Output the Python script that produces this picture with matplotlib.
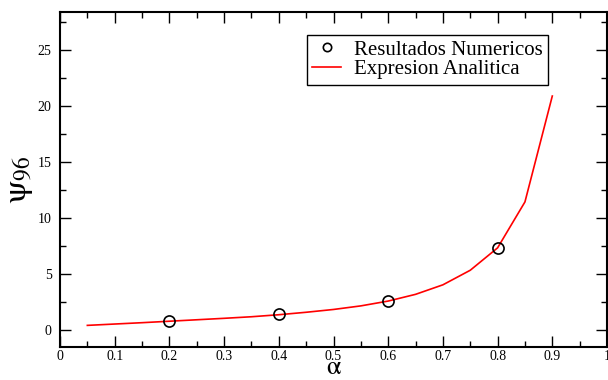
import matplotlib
matplotlib.use("Agg")
import matplotlib.pyplot as plt
from matplotlib.ticker import MultipleLocator

alpha_num = [0.2, 0.4, 0.6, 0.8]
psi_num = [0.83, 1.43, 2.6, 7.3]

alpha_an = [0.05, 0.1, 0.15, 0.2, 0.25, 0.3, 0.35, 0.4, 0.45, 0.5, 0.55,
            0.6, 0.65, 0.7, 0.75, 0.8, 0.85, 0.9]
psi_an = [0.43, 0.55, 0.67, 0.8, 0.93, 1.06, 1.2, 1.38, 1.6, 1.85, 2.17,
          2.6, 3.2, 4.05, 5.35, 7.35, 11.45, 20.9]

x_ticks = [0, 0.1, 0.2, 0.3, 0.4, 0.5, 0.6, 0.7, 0.8, 0.9, 1]
x_ticklabels = ["0", "0.1", "0.2", "0.3", "0.4", "0.5", "0.6", "0.7", "0.8", "0.9", "1"]
y_ticks = [0, 5, 10, 15, 20, 25]

plt.rcParams['font.family'] = ['Liberation Serif', 'DejaVu Serif']
plt.rcParams['mathtext.fontset'] = 'stix'

fig = plt.figure(figsize=(6.08, 3.80), dpi=100)
ax = fig.add_axes([60/608, 1-347/380, 547/608, 335/380])

ax.plot(alpha_an, psi_an, color='red', lw=1.2, label='Expresion Analitica', zorder=2)
ax.plot(alpha_num, psi_num, linestyle='none', marker='o', markersize=8,
        markerfacecolor='none', markeredgecolor='black', markeredgewidth=1.2,
        label='Resultados Numericos', zorder=3)

ax.set_xlim(0, 1)
ax.set_ylim(-1.5, 28.4)
ax.set_xticks(x_ticks)
ax.set_xticklabels(x_ticklabels)
ax.set_yticks(y_ticks)
ax.xaxis.set_minor_locator(MultipleLocator(0.05))
ax.yaxis.set_minor_locator(MultipleLocator(2.5))
ax.tick_params(which='both', direction='in', top=True, right=True, labelsize=10, width=1)
ax.tick_params(which='major', length=8)
ax.tick_params(axis='x', which='major', pad=2)
ax.tick_params(axis='y', which='major', pad=6)
ax.tick_params(which='minor', length=4)
for s in ax.spines.values():
    s.set_linewidth(1.5)

ax.set_xlabel(r'$\mathrm{\alpha}$', fontsize=19, labelpad=-4)
ax.set_ylabel(r'$\mathrm{\psi}_{96}$', fontsize=24, labelpad=2)

h, l = ax.get_legend_handles_labels()
leg = ax.legend([h[1], h[0]], [l[1], l[0]], loc='upper left',
                bbox_to_anchor=((307-60)/547, (347-35)/335), fontsize=15,
                frameon=True, fancybox=False, edgecolor='black', framealpha=1,
                handlelength=1.4, handletextpad=0.6, borderpad=0.25,
                labelspacing=0.0, borderaxespad=0, markerscale=0.75)
leg.get_frame().set_linewidth(1.0)

fig.savefig('out.png', dpi=100)
